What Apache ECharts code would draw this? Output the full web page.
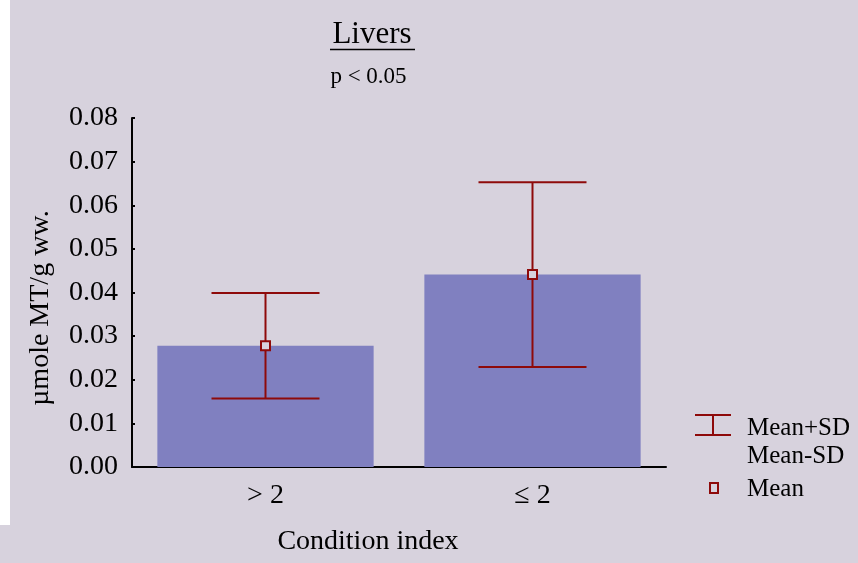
<!DOCTYPE html>
<html>
<head>
<meta charset="utf-8">
<title>Livers</title>
<script src="https://cdn.jsdelivr.net/npm/echarts@6/dist/echarts.min.js"></script>
<style>
  html, body { margin: 0; padding: 0; background: #ffffff; }
  #chart { width: 858px; height: 563px; }
</style>
</head>
<body>
<div id="chart"></div>
<script>
// Metallothionein in livers, grouped by condition index
const categories = ['> 2', '\u2264 2'];
const means = [0.0278, 0.0441];
const sds = [0.0121, 0.0212];
const yTicks = [0, 0.01, 0.02, 0.03, 0.04, 0.05, 0.06, 0.07, 0.08];

const BG = '#d7d2dd';
const BAR = '#8080c0';
const RED = '#8e0a0a';
const SERIF = '"Liberation Serif", "Times New Roman", serif';

const chart = echarts.init(document.getElementById('chart'), null, { renderer: 'canvas' });

const errData = categories.map((c, i) => [i, means[i], means[i] + sds[i], means[i] - sds[i]]);

function renderError(params, api) {
  const x = api.value(0);
  const top = api.coord([x, api.value(2)]);
  const bot = api.coord([x, api.value(3)]);
  const mid = api.coord([x, api.value(1)]);
  const capHalf = 54;
  const sq = 9;
  const line = { stroke: RED, lineWidth: 2 };
  return {
    type: 'group',
    children: [
      { type: 'line', shape: { x1: top[0], y1: top[1], x2: bot[0], y2: bot[1] }, style: line },
      { type: 'line', shape: { x1: top[0] - capHalf, y1: top[1], x2: top[0] + capHalf, y2: top[1] }, style: line },
      { type: 'line', shape: { x1: bot[0] - capHalf, y1: bot[1], x2: bot[0] + capHalf, y2: bot[1] }, style: line },
      { type: 'rect', shape: { x: mid[0] - sq / 2, y: mid[1] - sq / 2, width: sq, height: sq },
        style: { fill: BG, stroke: RED, lineWidth: 2 } }
    ]
  };
}

// text placed by its top edge
function label(text, x, y, size, align) {
  return { type: 'text', x: x, y: y,
    style: { text: text, font: size + 'px ' + SERIF, fill: '#000', align: align || 'left', verticalAlign: 'top' } };
}

const option = {
  backgroundColor: BG,
  animation: false,
  grid: { left: 132, right: 192, top: 118, bottom: 96, containLabel: false },
  xAxis: {
    type: 'category',
    data: categories,
    axisLine: { lineStyle: { color: '#000', width: 2 } },
    axisTick: { inside: true, length: 4, lineStyle: { color: '#000', width: 2 } },
    axisLabel: { color: '#000', fontFamily: SERIF, fontSize: 28, margin: 15 },
    splitLine: { show: false }
  },
  yAxis: {
    type: 'value',
    min: yTicks[0],
    max: yTicks[yTicks.length - 1],
    interval: 0.01,
    axisLine: { show: true, lineStyle: { color: '#000', width: 2 } },
    axisTick: { show: true, inside: true, length: 3, lineStyle: { color: '#000', width: 2 } },
    axisLabel: { color: '#000', fontFamily: SERIF, fontSize: 28, margin: 14,
      formatter: v => v.toFixed(2) },
    splitLine: { show: false }
  },
  series: [
    {
      type: 'bar',
      data: means,
      barWidth: '81%',
      itemStyle: { color: BAR },
      z: 2
    },
    {
      type: 'custom',
      data: errData,
      renderItem: renderError,
      z: 5
    }
  ],
  graphic: [
    { type: 'rect', left: 0, top: 0, shape: { width: 10, height: 525 }, style: { fill: '#ffffff' }, z: -10, silent: true },
    // title and subtitle
    label('Livers', 372, 19, 31, 'center'),
    { type: 'line', shape: { x1: 330, y1: 49.5, x2: 415, y2: 49.5 }, style: { stroke: '#000', lineWidth: 1.5 } },
    label('p < 0.05', 368.5, 65, 23, 'center'),
    // axis names
    label('Condition index', 368, 528, 28, 'center'),
    { type: 'text', x: 41, y: 308, rotation: Math.PI / 2,
      style: { text: '\u00b5mole MT/g ww.', font: '28px ' + SERIF, fill: '#000', align: 'center', verticalAlign: 'middle' } },
    // legend
    { type: 'line', shape: { x1: 695, y1: 415, x2: 731, y2: 415 }, style: { stroke: RED, lineWidth: 2 } },
    { type: 'line', shape: { x1: 713, y1: 415, x2: 713, y2: 435 }, style: { stroke: RED, lineWidth: 2 } },
    { type: 'line', shape: { x1: 695, y1: 435, x2: 731, y2: 435 }, style: { stroke: RED, lineWidth: 2 } },
    label('Mean+SD', 747, 416, 25),
    label('Mean-SD', 747, 444, 25),
    { type: 'rect', shape: { x: 710, y: 483, width: 8, height: 10 }, style: { fill: BG, stroke: RED, lineWidth: 2 } },
    label('Mean', 747, 477, 25)
  ]
};

chart.setOption(option);
</script>
</body>
</html>
